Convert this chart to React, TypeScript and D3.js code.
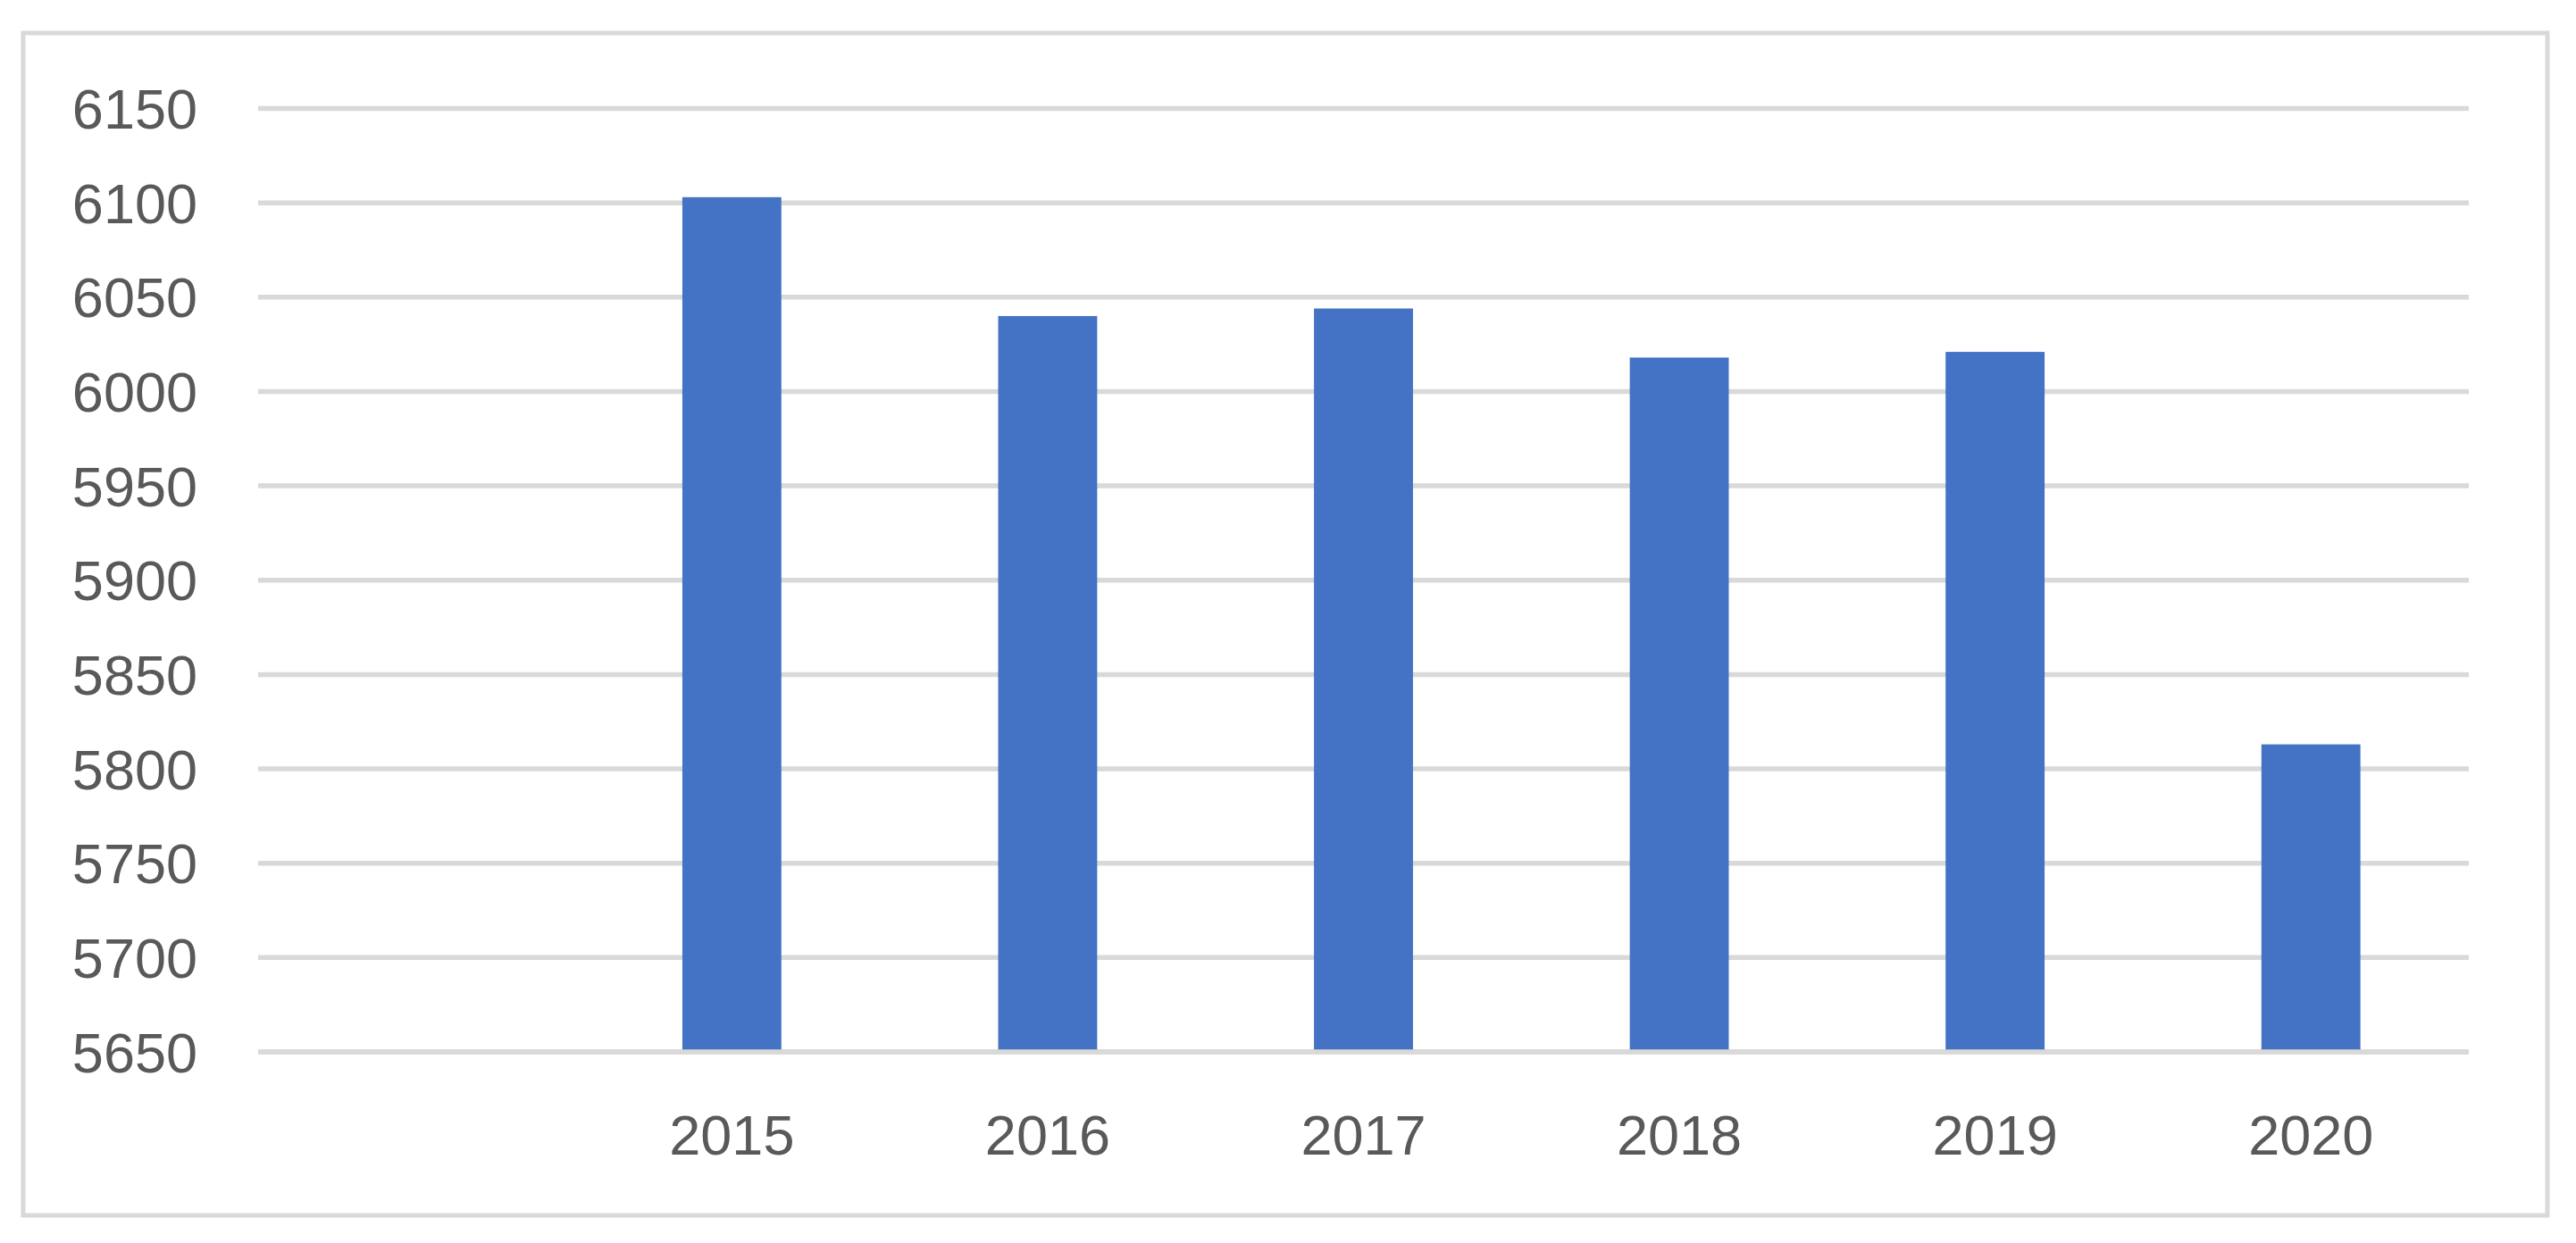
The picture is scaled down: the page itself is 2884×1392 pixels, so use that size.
import React from "react";
import * as d3 from "d3";

const categories: string[] = ["", "2015", "2016", "2017", "2018", "2019", "2020"];
const values: (number | null)[] = [null, 6103, 6040, 6044, 6018, 6021, 5813];
const yTicks: number[] = [5650, 5700, 5750, 5800, 5850, 5900, 5950, 6000, 6050, 6100, 6150];

const W = 2884;
const H = 1392;
const plotLeft = 289;
const plotRight = 2764;
const plotTop = 121.5;
const plotBottom = 1178;

export default function App() {
  const x = d3
    .scaleBand<string>()
    .domain(categories.map((c, i) => String(i)))
    .range([plotLeft, plotRight])
    .paddingInner(0)
    .paddingOuter(0);
  const y = d3.scaleLinear().domain([5650, 6150]).range([plotBottom, plotTop]);
  const bw = x.bandwidth() / 3.19;
  const font = "'Liberation Sans', Arial, sans-serif";
  const textColor = "#595959";
  const gridColor = "#d9d9d9";

  return (
    <svg
      width={W}
      height={H}
      style={{ position: "absolute", left: 0, top: 0, background: "#fff" }}
    >
      <rect x={0} y={0} width={W} height={H} fill="#fff" />
      <rect
        x={26}
        y={37}
        width={2826}
        height={1324}
        fill="#fff"
        stroke={gridColor}
        strokeWidth={5}
      />
      {yTicks.map((t) => (
        <line
          key={"g" + t}
          x1={plotLeft}
          x2={plotRight}
          y1={y(t)}
          y2={y(t)}
          stroke={gridColor}
          strokeWidth={5.5}
        />
      ))}
      {values.map((v, i) =>
        v == null ? null : (
          <rect
            key={"b" + i}
            x={(x(String(i)) as number) + x.bandwidth() / 2 - bw / 2}
            y={y(v)}
            width={bw}
            height={y(5650) - y(v)}
            fill="#4472C4"
          />
        )
      )}
      <line
        x1={plotLeft}
        x2={plotRight}
        y1={y(5650)}
        y2={y(5650)}
        stroke={gridColor}
        strokeWidth={5.5}
      />
      {yTicks.map((t) => (
        <text
          key={"t" + t}
          x={221}
          y={y(t)}
          dy="0.36em"
          textAnchor="end"
          fontFamily={font}
          fontSize={63}
          fill={textColor}
        >
          {t}
        </text>
      ))}
      {categories.map((c, i) =>
        c === "" ? null : (
          <text
            key={"c" + i}
            x={(x(String(i)) as number) + x.bandwidth() / 2}
            y={1293}
            textAnchor="middle"
            fontFamily={font}
            fontSize={63}
            fill={textColor}
          >
            {c}
          </text>
        )
      )}
    </svg>
  );
}
